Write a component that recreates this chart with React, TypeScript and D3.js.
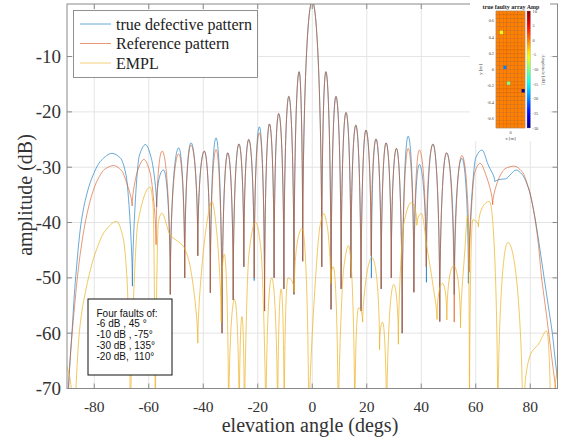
import React, { useMemo } from "react";
import * as d3 from "d3";

const W = 562;
const H = 444;

// ---------- data ----------
const xTicks = [-80, -60, -40, -20, 0, 20, 40, 60, 80];
const yTicks = [-70, -60, -50, -40, -30, -20, -10];

// [elevation angle (deg), amplitude (dB)] – lobe peaks, nulls and shoulder points
const truePattern: [number, number][] = [
  [-89.8, -74], [-89.0, -66], [-88.2, -60], [-87.0, -51], [-84.8, -40], [-82.8, -35], [-80.5, -31.5],
  [-77.5, -28.8], [-73.5, -27.5], [-70.5, -28.3], [-68.3, -31.5], [-66.0, -51.5], [-63.5, -28],
  [-61.2, -25.9], [-59.0, -28.5], [-57.1, -37.2], [-54.6, -30.5], [-52.1, -53], [-49.0, -26.5],
  [-46.8, -50], [-44.5, -25.6], [-42.0, -46], [-39.6, -27.1], [-37.4, -52.7], [-35.3, -24.7],
  [-33.1, -60], [-31.0, -27.4], [-29.0, -54], [-26.9, -25.8], [-25.1, -48], [-23.3, -25.0],
  [-21.3, -50.5], [-19.4, -22.7], [-17.5, -56], [-15.7, -22.2], [-14.0, -50], [-12.3, -20.3],
  [-10.4, -52], [-8.6, -17.2], [-6.7, -53], [-4.8, -12.7], [-3.5, -47], [0, 0], [3.5, -48],
  [5.0, -12.7], [6.9, -55.7], [8.7, -17.2], [10.6, -52], [12.4, -20.1], [14.2, -50], [16.0, -22.4],
  [17.9, -56], [19.7, -23.3], [21.7, -50], [23.4, -24.9], [25.3, -52], [27.1, -25.6], [29.0, -50],
  [30.9, -26.6], [33.0, -60], [35.2, -24.4], [37.3, -52.6], [39.3, -29.5], [41.9, -50.8],
  [44.3, -25.8], [46.8, -57.9], [49.3, -27.4], [52.1, -53], [54.9, -28.4], [57.3, -51],
  [60.0, -28.3], [62.3, -26.9], [64.5, -29.5], [67.0, -32.6], [69.0, -32.2], [71.0, -32.1],
  [73.0, -31.2], [74.8, -30.5], [77.0, -31.3], [79.5, -34], [81.5, -38.5], [83.3, -44],
  [85.0, -49.7], [86.6, -55], [88.1, -60], [89.2, -65], [90, -68.5],
];

const referencePattern: [number, number][] = [
  [-89.8, -72], [-88.6, -63], [-87.2, -55], [-85.5, -47], [-83.3, -40], [-81.0, -35.2], [-78.8, -32.3],
  [-76.0, -30.3], [-72.9, -29.7], [-70.0, -30.6], [-68.0, -33], [-66.1, -37], [-64.0, -30.5],
  [-61.8, -28.6], [-59.5, -31], [-57.3, -44], [-55.1, -27.1], [-52.1, -53], [-49.0, -27.6],
  [-46.8, -50], [-44.5, -26.0], [-42.0, -46], [-39.6, -27.1], [-37.4, -52.7], [-35.3, -26.8],
  [-33.1, -60], [-31.0, -27.4], [-29.0, -54], [-26.9, -25.8], [-25.1, -48], [-23.3, -25.0],
  [-21.3, -50], [-19.4, -23.8], [-17.5, -56], [-15.7, -22.2], [-14.0, -50], [-12.3, -20.3],
  [-10.4, -52], [-8.6, -17.2], [-6.7, -53], [-4.8, -12.8], [-3.5, -47], [0, 0], [3.5, -48],
  [5.0, -12.8], [6.9, -55.7], [8.7, -17.2], [10.6, -52], [12.4, -20.1], [14.2, -50], [16.0, -22.4],
  [17.9, -56], [19.7, -23.3], [21.6, -46], [23.4, -24.9], [25.3, -52], [27.1, -25.6], [29.0, -50],
  [30.9, -26.6], [33.0, -60], [35.2, -26.6], [37.3, -52.6], [39.3, -26.9], [41.8, -48],
  [44.3, -25.9], [46.8, -57.9], [49.3, -27.4], [52.1, -58], [54.9, -27.9], [57.6, -49],
  [59.6, -31], [61.6, -29.3], [63.8, -31.5], [66.2, -36.8], [68.5, -32], [71.0, -30.2],
  [74.1, -29.8], [77.0, -30.8], [79.5, -34], [81.3, -38], [83.0, -44], [84.1, -49.7],
  [85.5, -55], [86.8, -60], [88.3, -66], [89.6, -71],
];

const emplPattern: [number, number][] = [
  [-90, -66], [-88.8, -68.5], [-87.2, -80], [-85.5, -60], [-83, -52], [-79.6, -45.5], [-76, -41.5],
  [-71.8, -39.8], [-69.5, -42.5], [-68, -50], [-66.7, -78], [-64, -40], [-59.5, -33.6], [-58.4, -37],
  [-57.6, -80], [-56.5, -40], [-55.2, -38.3], [-52.2, -42.2], [-47.3, -44.3], [-45, -47.5],
  [-42, -61.8], [-38.8, -40.5], [-36.8, -36.2], [-35, -42], [-33.4, -58], [-32.3, -45.7],
  [-30.7, -80], [-28.5, -53.9], [-26.8, -80], [-25.8, -57], [-24.9, -80], [-23.3, -46],
  [-20.8, -39.9], [-18.8, -45], [-17.0, -80], [-14.9, -50], [-12.7, -80], [-11.4, -52],
  [-10.3, -80], [-8.9, -50], [-6.6, -52.5], [-3.7, -41.1], [-1.3, -80], [1.5, -48], [2.9, -40.5],
  [4.2, -38.4], [5.6, -41], [6.8, -51], [7.7, -48], [9.5, -80], [11.5, -48.5], [13.3, -44.2],
  [15.6, -80], [17.0, -55.4], [18.5, -58], [20.5, -48], [21.9, -46.3], [24.7, -63], [25.8, -58],
  [27.3, -80], [29.9, -51.2], [31.6, -62], [33.5, -40.5], [36.3, -36.4], [38.4, -40.5],
  [40.1, -38.4], [42.1, -44.5], [44.5, -52], [45.8, -57.5], [47.8, -51], [49.4, -57.6],
  [51.9, -47.8], [54.4, -59], [56.0, -45], [57.0, -38.8], [57.7, -80], [58.9, -39.5],
  [61.0, -40.8], [65.0, -36.2], [68.1, -80], [71.8, -43.6], [77.3, -80], [78.3, -68],
  [80.3, -63.6], [83, -62], [86.0, -59.6], [87.5, -80], [89, -70], [90, -66],
];

const legendLabels = ["true defective pattern", "Reference pattern", "EMPL"];
const seriesColors = ["#0072BD", "#D95319", "#EDB120"];
const faultNotes = ["Four faults of:", "-6 dB , 45 °", "-10 dB , -75°", "-30 dB , 135°", "-20 dB,  110°"];

// inset: element amplitudes of the faulty array
const insetRows = 30;
const insetCols = 8;
const healthyAmpDb = 0;
const faultRows = [5, 14, 18, 20];
const faultCols = [1, 2, 3, 7];
const faultAmpDb = [-6, -20, -10, -30];
const insetYTicks = [0.6, 0.4, 0.2, 0, -0.2, -0.4, -0.6];
const colorbarTicks = [10, 5, 0, -5, -10, -15, -20, -25, -30];

// ---------- custom lobe curve (vertical tangents at nulls, flat tops at peaks) ----------
function curveLobes(context: any) {
  let xs: number[] = [];
  let ys: number[] = [];
  return {
    areaStart() {},
    areaEnd() {},
    lineStart() {
      xs = [];
      ys = [];
    },
    point(px: number, py: number) {
      xs.push(+px);
      ys.push(+py);
    },
    lineEnd() {
      const n = xs.length;
      if (!n) return;
      const kind = (i: number) => {
        if (i === 0 || i === n - 1) return "m";
        if (ys[i] < ys[i - 1] && ys[i] < ys[i + 1]) return "p";
        if (ys[i] > ys[i - 1] && ys[i] > ys[i + 1]) return "n";
        return "m";
      };
      const slope = (i: number) => {
        if (i === 0) return (ys[1] - ys[0]) / (xs[1] - xs[0]);
        if (i === n - 1) return (ys[n - 1] - ys[n - 2]) / (xs[n - 1] - xs[n - 2]);
        const s0 = (ys[i] - ys[i - 1]) / (xs[i] - xs[i - 1]);
        const s1 = (ys[i + 1] - ys[i]) / (xs[i + 1] - xs[i]);
        if (s0 * s1 <= 0) return 0;
        // harmonic-mean (monotone) slope
        return (2 * s0 * s1) / (s0 + s1);
      };
      const ctrl = (i: number, j: number) => {
        const dx = xs[j] - xs[i];
        const dy = ys[j] - ys[i];
        const k = kind(i);
        const kj = kind(j);
        const f = kj === "m" ? 1 / 3 : 0.55;
        if (k === "p") return [xs[i] + f * dx, ys[i]];
        if (k === "n") return [xs[i], ys[i] + f * dy];
        const m = slope(i);
        return [xs[i] + dx / 3, ys[i] + (m * dx) / 3];
      };
      context.moveTo(xs[0], ys[0]);
      for (let i = 0; i < n - 1; i++) {
        const c1 = ctrl(i, i + 1);
        const c2 = ctrl(i + 1, i);
        context.bezierCurveTo(c1[0], c1[1], c2[0], c2[1], xs[i + 1], ys[i + 1]);
      }
    },
  };
}

const SERIF = "'Liberation Serif', 'Times New Roman', Times, serif";
const SANS = "'Liberation Sans', Arial, sans-serif";

export default function App() {
  const L = 67, R = 557.5, T = 4, B = 388.5;
  const x = d3.scaleLinear().domain([-90, 90]).range([L, R]);
  const y = d3.scaleLinear().domain([-70, -0.5]).range([B, T]);

  const paths = useMemo(() => {
    const line = d3
      .line<[number, number]>()
      .x((d) => x(d[0]))
      .y((d) => y(d[1]))
      .curve(curveLobes as any);
    return [line(truePattern) || "", line(referencePattern) || "", line(emplPattern) || ""];
  }, []);

  // inset scales
  const ix = d3.scaleLinear().domain([-0.18, 0.18]).range([496, 525]);
  const iy = d3.scaleLinear().domain([-0.72, 0.72]).range([128, 11]);
  const cb = d3.scaleLinear().domain([-30, 10]).range([128, 11]);
  const jet = d3
    .scaleLinear<string>()
    .domain([0, 0.125, 0.375, 0.625, 0.875, 1])
    .range(["#000080", "#0000ff", "#00ffff", "#ffff00", "#ff0000", "#800000"])
    .interpolate(d3.interpolateRgb);
  const ampColor = (db: number) => jet((db + 30) / 40);
  const pitchX = 0.36 / insetCols;
  const pitchY = 1.44 / insetRows;

  const cells: { r: number; c: number; db: number }[] = [];
  for (let r = 0; r < insetRows; r++)
    for (let c = 0; c < insetCols; c++) cells.push({ r, c, db: healthyAmpDb });
  faultRows.forEach((r, k) => {
    const cell = cells.find((e) => e.r === r && e.c === faultCols[k]);
    if (cell) cell.db = faultAmpDb[k];
  });

  const gradStops = d3.range(0, 1.0001, 0.05);

  return (
    <svg
      width={W}
      height={H}
      viewBox={`0 0 ${W} ${H}`}
      style={{ position: "absolute", left: 0, top: 0, background: "#fff" }}
    >
      <defs>
        <clipPath id="plotClip">
          <rect x={L} y={T} width={R - L} height={B - T} />
        </clipPath>
        <linearGradient id="jetGrad" x1="0" y1="1" x2="0" y2="0">
          {gradStops.map((t) => (
            <stop key={t} offset={t} stopColor={jet(t)} />
          ))}
        </linearGradient>
      </defs>
      <rect x={0} y={0} width={W} height={H} fill="#fff" />

      {/* grid */}
      {xTicks.map((t) => (
        <line key={"gx" + t} x1={x(t)} x2={x(t)} y1={T} y2={B} stroke="#e4e4e4" strokeWidth={1} />
      ))}
      {yTicks.map((t) => (
        <line key={"gy" + t} x1={L} x2={R} y1={y(t)} y2={y(t)} stroke="#e4e4e4" strokeWidth={1} />
      ))}

      {/* curves */}
      <g clipPath="url(#plotClip)" fill="none" strokeWidth={1}>
        <path d={paths[0]} stroke={seriesColors[0]} strokeOpacity={0.6} />
        <path d={paths[1]} stroke={seriesColors[1]} strokeOpacity={0.6} />
        <path d={paths[2]} stroke={seriesColors[2]} strokeOpacity={0.7} />
      </g>

      {/* frame & ticks */}
      <rect x={L} y={T} width={R - L} height={B - T} fill="none" stroke="#8a8a8a" strokeWidth={1} />
      {xTicks.map((t) => (
        <g key={"tx" + t} stroke="#8a8a8a">
          <line x1={x(t)} x2={x(t)} y1={B} y2={B - 5} />
          <line x1={x(t)} x2={x(t)} y1={T} y2={T + 5} />
        </g>
      ))}
      {yTicks.map((t) => (
        <g key={"ty" + t} stroke="#8a8a8a">
          <line x1={L} x2={L + 5} y1={y(t)} y2={y(t)} />
          <line x1={R} x2={R - 5} y1={y(t)} y2={y(t)} />
        </g>
      ))}
      {xTicks.map((t) => (
        <text
          key={"lx" + t}
          x={x(t)}
          y={412}
          textAnchor="middle"
          fontFamily={SERIF}
          fontSize={15.5}
          fill="#333"
        >
          {t}
        </text>
      ))}
      {yTicks.map((t) => (
        <text
          key={"ly" + t}
          x={61}
          y={y(t) + 6.5}
          textAnchor="end"
          fontFamily={SERIF}
          fontSize={19}
          fill="#333"
        >
          {t}
        </text>
      ))}
      <text x={310} y={432} textAnchor="middle" fontFamily={SERIF} fontSize={20} fill="#333">
        elevation angle (degs)
      </text>
      <text
        transform={`translate(32, 195) rotate(-90)`}
        textAnchor="middle"
        fontFamily={SERIF}
        fontSize={20}
        fill="#333"
      >
        amplitude (dB)
      </text>

      {/* legend */}
      <rect x={73.5} y={10.5} width={184} height={67} fill="#fff" stroke="#777" strokeWidth={0.8} />
      {legendLabels.map((lab, i) => {
        const cy = 24 + i * 19.5;
        return (
          <g key={lab}>
            <line x1={80} x2={111} y1={cy} y2={cy} stroke={seriesColors[i]} strokeOpacity={0.6} strokeWidth={1} />
            <text x={116} y={cy + 5.5} fontFamily={SERIF} fontSize={16} fill="#222">
              {lab}
            </text>
          </g>
        );
      })}

      {/* fault note box */}
      <rect x={88} y={299} width={84} height={76} fill="#fff" stroke="#111" strokeWidth={1} />
      {faultNotes.map((s, i) => (
        <text
          key={i}
          x={96.5}
          y={316.5 + i * 10.8}
          fontFamily={SANS}
          fontSize={10}
          fill="#111"
          style={{ whiteSpace: "pre" }}
        >
          {s}
        </text>
      ))}

      {/* inset */}
      <rect x={470} y={0} width={80} height={141} fill="#fff" />
      <text x={511} y={8.5} textAnchor="middle" fontFamily={SERIF} fontSize={6} fontWeight="bold" fill="#222">
        true faulty array Amp
      </text>
      {cells.map((e) => {
        const x0 = ix(-0.18 + e.c * pitchX);
        const x1 = ix(-0.18 + (e.c + 1) * pitchX);
        const y0 = iy(0.72 - e.r * pitchY);
        const y1 = iy(0.72 - (e.r + 1) * pitchY);
        return (
          <rect
            key={e.r + "-" + e.c}
            x={x0}
            y={y0}
            width={x1 - x0}
            height={y1 - y0}
            fill={ampColor(e.db)}
            stroke="#c45f08"
            strokeWidth={0.35}
          />
        );
      })}
      <rect x={ix(-0.18)} y={iy(0.72)} width={ix(0.18) - ix(-0.18)} height={iy(-0.72) - iy(0.72)} fill="none" stroke="#999" strokeWidth={0.4} />
      {insetYTicks.map((t) => (
        <text key={"iy" + t} x={494} y={iy(t) + 1.5} textAnchor="end" fontFamily={SERIF} fontSize={4.3} fill="#444">
          {t}
        </text>
      ))}
      <text x={ix(0)} y={133.5} textAnchor="middle" fontFamily={SERIF} fontSize={4.3} fill="#444">
        0
      </text>
      <text x={ix(0)} y={139.5} textAnchor="middle" fontFamily={SERIF} fontSize={4.8} fill="#444">
        x [m]
      </text>
      <text transform={`translate(482, ${iy(0)}) rotate(-90)`} textAnchor="middle" fontFamily={SERIF} fontSize={4.8} fill="#444">
        y [m]
      </text>
      <rect x={527} y={cb(10)} width={3.5} height={cb(-30) - cb(10)} fill="url(#jetGrad)" stroke="#999" strokeWidth={0.3} />
      {colorbarTicks.map((t) => (
        <text key={"cb" + t} x={532.5} y={cb(t) + 1.5} fontFamily={SERIF} fontSize={4.3} fill="#444">
          {t}
        </text>
      ))}
      <text transform={`translate(542, ${cb(-10)}) rotate(90)`} textAnchor="middle" fontFamily={SERIF} fontSize={4.8} fill="#444">
        Amplitude [dB]
      </text>
    </svg>
  );
}
